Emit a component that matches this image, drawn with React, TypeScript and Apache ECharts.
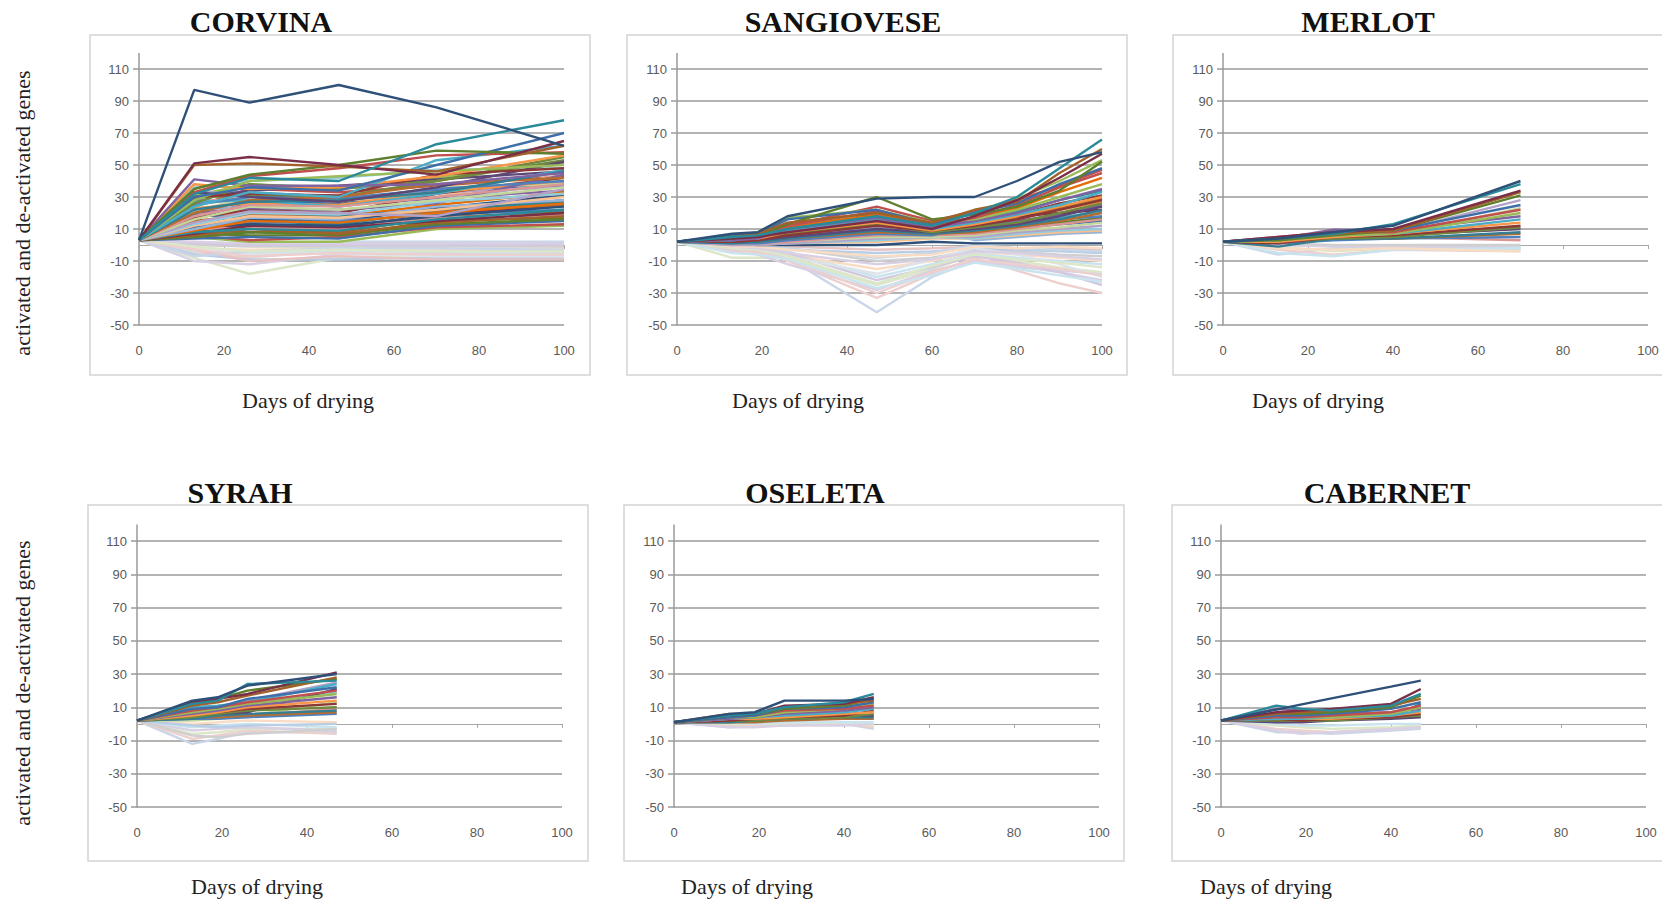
import React, { useEffect, useRef } from "react";
import * as echarts from "echarts";

// ---------- DATA ----------
const panelTitles = ["CORVINA", "SANGIOVESE", "MERLOT", "SYRAH", "OSELETA", "CABERNET"];
const xAxisTitle = "Days of drying";
const yAxisTitle = "activated and de-activated genes";
const xTicks = [0, 20, 40, 60, 80, 100];
const yTicks = [-50, -30, -10, 10, 30, 50, 70, 90, 110];

const corvinaDays = [0, 13, 26, 47, 70, 100];
const corvinaUp = [
  [3, 97, 89, 100, 86, 62],
  [3, 32, 42, 40, 63, 78],
  [3, 51, 55, 50, 44, 65],
  [3, 50, 51, 49, 46, 62],
  [3, 35, 44, 50, 59, 57],
  [3, 30, 36, 34, 50, 70],
  [3, 33, 43, 48, 56, 58],
  [3, 28, 40, 43, 46, 50],
  [3, 41, 37, 37, 38, 45],
  [3, 24, 33, 30, 53, 62],
  [3, 38, 35, 36, 43, 56],
  [3, 30, 32, 31, 44, 48],
  [3, 26, 38, 35, 40, 55],
  [3, 33, 30, 27, 36, 52],
  [3, 22, 27, 28, 33, 46],
  [3, 20, 28, 30, 38, 42],
  [3, 25, 30, 29, 35, 40],
  [3, 18, 25, 24, 30, 38],
  [3, 16, 24, 22, 28, 36],
  [3, 14, 21, 20, 18, 35],
  [3, 13, 20, 19, 27, 32],
  [3, 12, 18, 17, 22, 30],
  [3, 10, 17, 16, 24, 28],
  [3, 9, 15, 14, 20, 26],
  [3, 11, 13, 12, 18, 24],
  [3, 8, 10, 9, 16, 22],
  [3, 7, 12, 11, 15, 20],
  [3, 6, 10, 7, 14, 18],
  [3, 5, 8, 6, 13, 16],
  [3, 4, 5, 4, 12, 15],
  [3, 6, 3, 5, 11, 13],
  [3, 5, 2, 2, 10, 12],
  [3, 20, 23, 22, 26, 44],
  [3, 27, 28, 24, 32, 47],
  [3, 23, 26, 25, 33, 40],
  [3, 17, 22, 20, 32, 42],
  [3, 30, 31, 30, 40, 53],
  [3, 29, 34, 37, 41, 46],
  [3, 19, 17, 18, 22, 28],
  [3, 15, 19, 18, 21, 25],
  [3, 12, 14, 15, 19, 22],
  [3, 10, 11, 10, 17, 19],
  [3, 21, 30, 27, 36, 38],
  [3, 33, 33, 30, 33, 36],
  [3, 36, 40, 42, 47, 48],
  [3, 26, 31, 28, 30, 44],
  [3, 22, 24, 21, 28, 39],
  [3, 18, 20, 18, 25, 33],
  [3, 15, 16, 15, 23, 31],
  [3, 13, 15, 13, 21, 27],
  [3, 11, 12, 11, 19, 25],
  [3, 9, 8, 8, 17, 21],
  [3, 7, 6, 6, 15, 17],
  [3, 16, 27, 26, 34, 37],
  [3, 24, 35, 33, 37, 43],
  [3, 31, 38, 36, 42, 51],
  [3, 28, 27, 25, 29, 34],
];
const corvinaDown = [
  [3, 1, 1, 2, 2, 2],
  [3, -5, -8, -3, -3, -3],
  [3, -8, -18, -8, -6, -5],
  [3, -10, -12, -6, -5, -4],
  [3, -4, -5, -4, -4, -6],
  [3, -2, -3, -2, -3, -2],
  [3, 0, -1, -1, -1, -1],
  [3, -6, -9, -9, -8, -8],
  [3, -3, -10, -7, -9, -9],
  [3, 1, 0, 0, 0, 0],
  [3, -1, -6, -5, -7, -7],
  [3, -7, -4, -2, -2, -3],
  [3, -3, -7, -5, -6, -6],
  [3, -1, -4, -3, -4, -4],
  [3, 2, 1, 1, 1, 1],
];

const sangioveseDays = [0, 13, 19, 26, 47, 60, 70, 80, 90, 100];
const sangioveseUp = [
  [2, 7, 8, 18, 29, 30, 30, 40, 52, 58],
  [2, 5, 6, 10, 18, 12, 20, 30, 48, 66],
  [2, 4, 5, 8, 15, 10, 18, 28, 42, 57],
  [2, 5, 7, 14, 20, 14, 22, 27, 45, 60],
  [2, 4, 6, 13, 30, 16, 19, 24, 34, 52],
  [2, 6, 7, 16, 22, 13, 20, 26, 38, 48],
  [2, 5, 6, 12, 21, 12, 17, 25, 36, 45],
  [2, 6, 8, 17, 22, 14, 16, 22, 30, 38],
  [2, 3, 4, 10, 17, 11, 15, 20, 28, 35],
  [2, 3, 5, 9, 16, 10, 14, 19, 25, 33],
  [2, 4, 4, 8, 14, 9, 13, 18, 24, 30],
  [2, 2, 3, 6, 12, 9, 12, 16, 22, 28],
  [2, 3, 3, 7, 13, 8, 11, 14, 20, 26],
  [2, 2, 3, 5, 10, 8, 10, 13, 18, 24],
  [2, 1, 2, 4, 9, 7, 9, 12, 16, 22],
  [2, 2, 2, 4, 8, 7, 8, 11, 15, 20],
  [2, 1, 1, 3, 7, 6, 12, 14, 16, 18],
  [2, 1, 1, 2, 6, 6, 7, 10, 13, 16],
  [2, 1, 1, 2, 5, 5, 6, 9, 11, 14],
  [2, 0, 0, 1, 4, 5, 5, 8, 10, 12],
  [2, 0, 1, 1, 3, 5, 4, 7, 9, 10],
  [2, 1, 0, 1, 2, 4, 4, 6, 8, 9],
  [2, 3, 4, 6, 11, 9, 3, 5, 7, 8],
  [2, 4, 5, 11, 19, 13, 17, 23, 33, 42],
  [2, 1, 0, 0, 0, 2, 1, 1, 1, 1],
  [2, 3, 4, 7, 20, 12, 15, 21, 28, 34],
  [2, 2, 3, 5, 9, 8, 14, 18, 20, 22],
  [2, 4, 5, 9, 14, 10, 13, 17, 23, 29],
  [2, 2, 2, 3, 7, 10, 10, 12, 14, 17],
  [2, 3, 3, 5, 10, 11, 9, 11, 13, 15],
  [2, 5, 6, 12, 24, 15, 21, 28, 37, 47],
  [2, 5, 6, 13, 19, 14, 21, 29, 40, 53],
  [2, 3, 4, 8, 12, 10, 12, 15, 19, 25],
  [2, 2, 3, 6, 15, 10, 11, 14, 17, 21],
  [2, 3, 4, 8, 18, 12, 13, 17, 22, 27],
  [2, 4, 5, 10, 21, 13, 15, 19, 26, 31],
];
const sangioveseDown = [
  [2, -1, -3, -8, -42, -20, -10, -14, -16, -18],
  [2, -2, -4, -10, -33, -18, -8, -16, -24, -30],
  [2, -8, -8, -8, -25, -15, -6, -10, -14, -17],
  [2, -3, -6, -12, -28, -16, -10, -13, -17, -22],
  [2, 0, -1, -4, -20, -12, -5, -8, -10, -12],
  [2, -1, -2, -6, -15, -10, -4, -6, -8, -10],
  [2, 0, -1, -2, -10, -8, -3, -4, -6, -7],
  [2, -1, -2, -3, -5, -4, -2, -3, -4, -5],
  [2, 1, 0, -1, -3, -2, -1, -2, -2, -3],
  [2, -2, -3, -5, -22, -14, -7, -11, -17, -25],
  [2, -1, -2, -7, -18, -9, -2, -6, -12, -20],
  [2, 0, 0, -2, -8, -5, 0, -2, -3, -4],
  [2, -4, -5, -9, -30, -17, -9, -12, -15, -19],
  [2, -2, -3, -7, -24, -13, -6, -9, -11, -14],
  [2, -1, -2, -5, -12, -9, -4, -5, -7, -9],
  [2, -5, -6, -9, -27, -19, -11, -15, -19, -23],
  [2, -1, -1, -3, -7, -6, -1, -2, -1, -2],
];

const merlotDays = [0, 13, 26, 40, 70];
const merlotUp = [
  [2, 4, 8, 12, 40],
  [2, 4, 7, 13, 38],
  [2, 5, 8, 10, 34],
  [2, 4, 7, 9, 33],
  [2, 3, 6, 9, 31],
  [2, 4, 7, 9, 25],
  [2, 5, 8, 8, 22],
  [2, 3, 6, 7, 20],
  [2, 4, 9.5, 9, 18],
  [2, 3, 6, 7, 16],
  [2, 2, 5, 7, 14],
  [2, 1, 5, 6, 12],
  [2, 2, 4, 5, 11],
  [2, 3, 5, 6, 10],
  [2, -1, 4, 4, 8],
  [2, 2, 4, 4, 7],
  [2, 1, 3, 4, 5],
  [2, 3, 4, 5, 3],
  [2, 2, 5, 6, 23],
  [2, 3, 6, 8, 28],
];
const merlotDown = [
  [2, -6, -2, -1, -1],
  [2, -3, -6, -3, -4],
  [2, -1, -4, -2, -3],
  [2, 0, -1, -1, -2],
  [2, -5, -7, -3, -2],
  [2, -2, -3, -2, -4],
  [2, 1, 0, 0, 0],
];

const syrahDays = [0, 13, 19, 26, 47];
const syrahUp = [
  [2, 14, 16, 23, 30],
  [2, 12, 14, 24, 26],
  [2, 13, 15, 18, 31],
  [2, 11, 13, 17, 28],
  [2, 12, 15, 20, 27],
  [2, 9, 10, 15, 22],
  [2, 8, 10, 13, 20],
  [2, 7, 9, 12, 18],
  [2, 6, 8, 11, 16],
  [2, 10, 11, 13, 24],
  [2, 5, 7, 10, 14],
  [2, 6, 7, 9, 12],
  [2, 4, 6, 8, 10],
  [2, 5, 6, 7, 21],
  [2, 3, 5, 6, 8],
  [2, 4, 4, 5, 7],
  [2, 3, 3, 4, 6],
  [2, 4, 5, 5, 9],
  [2, 2, 3, 5, 13],
  [2, 8, 9, 14, 25],
  [2, 7, 8, 12, 19],
];
const syrahDown = [
  [2, -12, -9, -5, -5],
  [2, -9, -7, -4, -6],
  [2, -6, -5, -3, -3],
  [2, -4, -3, -2, -4],
  [2, -2, -1, 0, -2],
  [2, 0, 1, 2, 1],
  [2, -7, -8, -6, -3],
  [2, -1, -2, -1, 0],
];

const oseletaDays = [0, 13, 19, 26, 40, 47];
const oseletaUp = [
  [1, 6, 7, 14, 14, 15],
  [1, 5, 6, 10, 13, 18],
  [1, 5, 6, 11, 12, 16],
  [1, 6, 6, 10, 12, 14],
  [1, 5, 6, 9, 11, 15],
  [1, 4, 5, 9, 10, 13],
  [1, 4, 5, 8, 9, 11],
  [1, 4, 4, 7, 9, 12],
  [1, 3, 4, 6, 8, 10],
  [1, 3, 4, 5, 7, 9],
  [1, 3, 3, 4, 6, 7],
  [1, 2, 3, 4, 5, 8],
  [1, 2, 2, 3, 4, 6],
  [1, 2, 3, 3, 5, 5],
  [1, 1, 2, 3, 4, 4],
  [1, 1, 1, 2, 3, 3],
];
const oseletaDown = [
  [1, -2, -1, -1, 0, -3],
  [1, -1, -1, 0, 0, -2],
  [1, 0, 0, 0, 1, -1],
  [1, -2, -2, -1, -1, 0],
  [1, 1, 0, 1, 1, 1],
];

const cabernetDays = [0, 13, 19, 26, 40, 47];
const cabernetUp = [
  [2, 8.6, 11.7, 15.3, 22.4, 26],
  [2, 11, 9, 8, 11, 18],
  [2, 7, 8, 9, 12, 21],
  [2, 6, 7, 8, 11, 15],
  [2, 6, 6, 7, 10, 17],
  [2, 5, 5, 6, 9, 13],
  [2, 4, 4, 5, 7, 11],
  [2, 6, 4, 4, 6, 10],
  [2, 9, 8, 6, 7, 9],
  [2, 3, 3, 4, 5, 8],
  [2, 4, 3, 3, 5, 7],
  [2, 3, 2, 3, 4, 6],
  [2, 2, 2, 2, 4, 5],
  [2, 1, 1, 2, 3, 4],
  [2, 5, 3, 3, 4, 12],
];
const cabernetDown = [
  [2, -5, -5, -6, -4, -3],
  [2, -3, -4, -5, -3, -2],
  [2, -1, -2, -3, -2, -1],
  [2, -4, -6, -5, -3, -2],
  [2, 0, -1, -1, 0, 0],
];

// ---------- STYLE / LAYOUT ----------
const strongColors = [
  "#2F5078", "#2A8A9A", "#7A2E47", "#A0622A", "#5D7F2E", "#3F6FA8",
  "#C0504D", "#9BBB59", "#8064A2", "#4BACC6", "#F79646", "#8C3836",
  "#71893F", "#5C4776", "#357D91", "#B66D31", "#4F81BD", "#D99694",
  "#C3D69B", "#B3A2C7", "#93CDDD", "#FAC090", "#95B3D7", "#E46C0A",
];
const paleColors = [
  "#C9D6E8", "#EDCFCE", "#DCE6C8", "#D9D0E3", "#C9E4EE", "#F9DCC4",
  "#CFCFCF", "#B9CDE5", "#E6C3C2", "#D2C8DF", "#DDE3EA",
];

const layouts = [
  { box: [90, 35, 500, 340], grid: [139, 69, 425, 256], title: [261, 21], xt: [308, 400] },
  { box: [627, 35, 500, 340], grid: [677, 69, 425, 256], title: [843, 21], xt: [798, 400] },
  { box: [1173, 35, 500, 340], grid: [1223, 69, 425, 256], title: [1368, 21], xt: [1318, 400] },
  { box: [88, 505, 500, 356], grid: [137, 541, 425, 266], title: [240, 492], xt: [257, 886] },
  { box: [624, 505, 500, 356], grid: [674, 541, 425, 266], title: [815, 492], xt: [747, 886] },
  { box: [1172, 505, 500, 356], grid: [1221, 541, 425, 266], title: [1387, 492], xt: [1266, 886] },
];

const panels = [
  { days: corvinaDays, up: corvinaUp, down: corvinaDown },
  { days: sangioveseDays, up: sangioveseUp, down: sangioveseDown },
  { days: merlotDays, up: merlotUp, down: merlotDown },
  { days: syrahDays, up: syrahUp, down: syrahDown },
  { days: oseletaDays, up: oseletaUp, down: oseletaDown },
  { days: cabernetDays, up: cabernetUp, down: cabernetDown },
];

const gridColor = "#9a9a9a";
const labelColor = "#5a5a5a";

export default function App() {
  const ref = useRef<HTMLDivElement>(null);

  useEffect(() => {
    if (!ref.current) return;
    const chart = echarts.init(ref.current, undefined, { renderer: "svg" });

    const grids: any[] = [];
    const xAxes: any[] = [];
    const zeroAxes: any[] = [];
    const yAxes: any[] = [];
    const series: any[] = [];
    const graphics: any[] = [];

    const yMin = yTicks[0];
    const yMax = yTicks[yTicks.length - 1];

    layouts.forEach((L, i) => {
      const [gl, gt, gw, gh] = L.grid;
      grids.push({ left: gl, top: gt, width: gw, height: gh, containLabel: false });
      xAxes.push({
        type: "value",
        gridIndex: i,
        min: xTicks[0],
        max: xTicks[xTicks.length - 1],
        interval: xTicks[1] - xTicks[0],
        position: "bottom",
        axisLine: { show: false, onZero: false },
        axisTick: { show: false },
        splitLine: { show: false },
        axisLabel: { color: labelColor, fontSize: 13, fontFamily: "Liberation Sans", margin: 19 },
      });
      zeroAxes.push({
        type: "value",
        gridIndex: i,
        min: xTicks[0],
        max: xTicks[xTicks.length - 1],
        interval: xTicks[1] - xTicks[0],
        position: "bottom",
        axisLine: { show: true, onZero: true, lineStyle: { color: "#a8a8a8", width: 1.2 } },
        axisTick: { show: true, length: 4, lineStyle: { color: "#a8a8a8", width: 1 } },
        axisLabel: { show: false },
        splitLine: { show: false },
      });
      yAxes.push({
        type: "value",
        gridIndex: i,
        min: yMin,
        max: yMax,
        interval: yTicks[1] - yTicks[0],
        axisLine: { show: true, lineStyle: { color: gridColor, width: 1.5 } },
        axisTick: { show: true, length: 6, lineStyle: { color: gridColor, width: 1.5 } },
        splitLine: { show: true, lineStyle: { color: gridColor, width: 1.5 } },
        axisLabel: { color: labelColor, fontSize: 13, fontFamily: "Liberation Sans", margin: 10 },
      });

      const P = panels[i];
      P.down.forEach((row, j) => {
        series.push({
          type: "line",
          xAxisIndex: i,
          yAxisIndex: i,
          symbol: "none",
          silent: true,
          lineStyle: { width: 2.4, color: paleColors[j % paleColors.length] },
          data: P.days.map((d, k) => [d, row[k]]),
        });
      });
      for (let j = P.up.length - 1; j >= 0; j--) {
        const row = P.up[j];
        series.push({
          type: "line",
          xAxisIndex: i,
          yAxisIndex: i,
          symbol: "none",
          silent: true,
          lineStyle: { width: 2.4, color: strongColors[j % strongColors.length] },
          data: P.days.map((d, k) => [d, row[k]]),
        });
      }

      const [bx, by, bw, bh] = L.box;
      graphics.push({
        type: "rect",
        z: -1,
        silent: true,
        shape: { x: bx, y: by, width: bw, height: bh },
        style: { fill: "none", stroke: "#d3d3d3", lineWidth: 1.5 },
      });
      // axis line extends above the top gridline
      graphics.push({
        type: "line",
        silent: true,
        shape: { x1: gl, y1: gt - gh / 16, x2: gl, y2: gt },
        style: { stroke: gridColor, lineWidth: 1.5 },
      });
      graphics.push({
        type: "text",
        x: L.title[0],
        y: L.title[1],
        style: {
          text: panelTitles[i],
          font: "bold 30px 'Liberation Serif'",
          fill: "#111",
          align: "center",
          verticalAlign: "middle",
        },
      });
      graphics.push({
        type: "text",
        x: L.xt[0],
        y: L.xt[1],
        style: {
          text: xAxisTitle,
          font: "22px 'Liberation Serif'",
          fill: "#222",
          align: "center",
          verticalAlign: "middle",
        },
      });
    });

    [213, 683].forEach((cy) => {
      graphics.push({
        type: "text",
        x: 22,
        y: cy,
        rotation: Math.PI / 2,
        style: {
          text: yAxisTitle,
          font: "22px 'Liberation Serif'",
          fill: "#222",
          align: "center",
          verticalAlign: "middle",
        },
      });
    });

    chart.setOption({
      animation: false,
      backgroundColor: "#ffffff",
      grid: grids,
      xAxis: [...xAxes, ...zeroAxes],
      yAxis: yAxes,
      series,
      graphic: { elements: graphics },
    });

    return () => chart.dispose();
  }, []);

  return (
    <div
      ref={ref}
      style={{ position: "fixed", left: 0, top: 0, width: 1662, height: 903, background: "#fff" }}
    />
  );
}
